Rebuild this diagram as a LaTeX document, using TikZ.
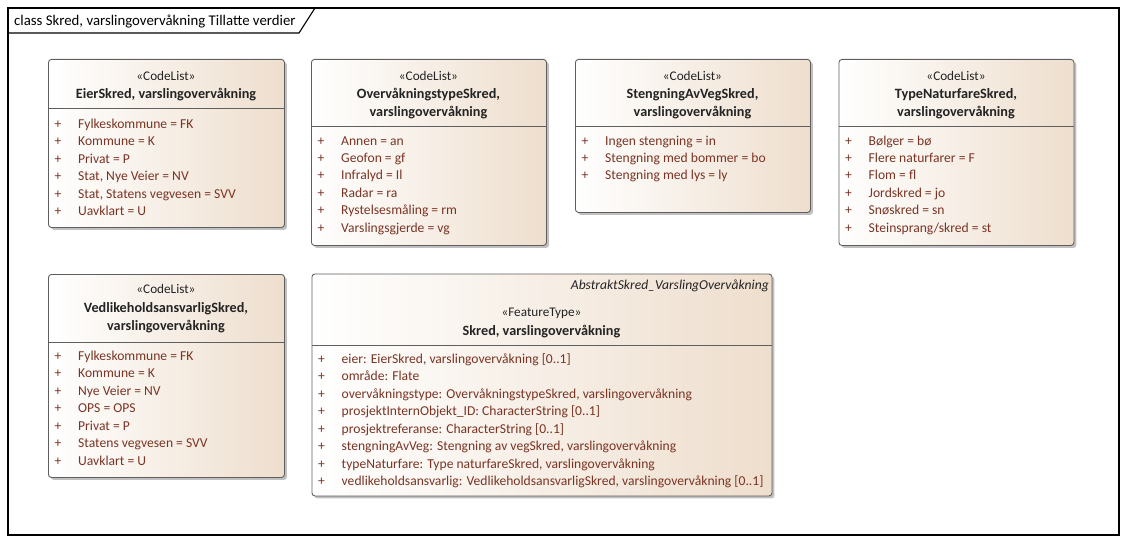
\documentclass[tikz,border=0pt]{standalone}
\usepackage{fontspec}
\setmainfont{Carlito}
\usetikzlibrary{shadows}
\definecolor{attrc}{RGB}{122,52,36}
\definecolor{hdrc}{RGB}{35,35,35}
\definecolor{fillr}{RGB}{238,222,205}
\definecolor{bordc}{RGB}{95,95,95}
\tikzset{
  umlbox/.style={draw=bordc, line width=0.9pt, rounded corners=3pt,
    left color=white, right color=fillr, anchor=north west, inner sep=0pt,
    drop shadow={shadow xshift=2.5pt, shadow yshift=-2.5pt, fill=black!45, opacity=0.55}},
  sepline/.style={draw=bordc, line width=0.9pt},
  hdrtxt/.style={inner sep=0pt, anchor=base, text=hdrc, font=\fontsize{13.2}{15}\selectfont},
  nametxt/.style={hdrtxt, font=\fontsize{14.2}{16}\selectfont\bfseries},
  attrtxt/.style={inner sep=0pt, anchor=base west, text=attrc, font=\fontsize{13.6}{15}\selectfont},
  plustxt/.style={inner sep=0pt, anchor=base, text=attrc, font=\fontsize{13.6}{15}\selectfont},
  frametxt/.style={inner sep=0pt, anchor=base west, text=black, font=\fontsize{14.8}{16}\selectfont},
}
\newcommand\attrrows[4]{%
  \foreach \txt [count=\i from 0] in {#4} {
    \node[plustxt] (#1p\i) at ({#2+10},{#3+4+\i*17.45}) {+};
    \node[attrtxt] (#1r\i) at ({#2+30},{#3+4+\i*17.45}) {\txt};
  }}
\begin{document}
\begin{tikzpicture}[x=1pt,y=-1pt]
\useasboundingbox (0,0) rectangle (1127,543);
% frame
\draw[line width=1.1pt] (8,8) rectangle (1119,535);
\coordinate (t1) at (315,8);
\coordinate (t2) at (299,33);
\coordinate (t3) at (8,33);
\draw[line width=1.1pt] (t1) -- (t2) -- (t3);
\node[frametxt] (title) at (14,25.5) {class Skred, varslingovervåkning Tillatte verdier};

% Box 1
\node[umlbox, minimum width=236pt, minimum height=168pt] (b1) at (48,59) {};
\node[hdrtxt] (b1s) at (166,80.5) {«CodeList»};
\node[nametxt] (b1n) at (166,99) {EierSkred, varslingovervåkning};
\draw[sepline] (b1.west |- 0,108) -- (b1.east |- 0,108);
\attrrows{b1}{48}{124.3}{Fylkeskommune = FK, Kommune = K, Privat = P, {Stat, Nye Veier = NV}, {Stat, Statens vegvesen = SVV}, Uavklart = U}

% Box 2
\node[umlbox, minimum width=235pt, minimum height=186pt] (b2) at (311,59) {};
\node[hdrtxt] (b2s) at (428.5,80.5) {«CodeList»};
\node[nametxt] (b2n) at (428.5,99) {OvervåkningstypeSkred,};
\node[nametxt] (b2m) at (428.5,116.5) {varslingovervåkning};
\draw[sepline] (b2.west |- 0,126.5) -- (b2.east |- 0,126.5);
\attrrows{b2}{311}{141}{Annen = an, Geofon = gf, Infralyd = Il, Radar = ra, Rystelsesmåling = rm, Varslingsgjerde = vg}

% Box 3
\node[umlbox, minimum width=235pt, minimum height=153pt] (b3) at (575,59) {};
\node[hdrtxt] (b3s) at (692.5,80.5) {«CodeList»};
\node[nametxt] (b3n) at (692.5,99) {StengningAvVegSkred,};
\node[nametxt] (b3m) at (692.5,116.5) {varslingovervåkning};
\draw[sepline] (b3.west |- 0,126.5) -- (b3.east |- 0,126.5);
\attrrows{b3}{575}{141}{Ingen stengning = in, Stengning med bommer = bo, Stengning med lys = ly}

% Box 4
\node[umlbox, minimum width=235pt, minimum height=186pt] (b4) at (838.5,59) {};
\node[hdrtxt] (b4s) at (956,80.5) {«CodeList»};
\node[nametxt] (b4n) at (956,99) {TypeNaturfareSkred,};
\node[nametxt] (b4m) at (956,116.5) {varslingovervåkning};
\draw[sepline] (b4.west |- 0,126.5) -- (b4.east |- 0,126.5);
\attrrows{b4}{838.5}{141}{Bølger = bø, Flere naturfarer = F, Flom = fl, Jordskred = jo, Snøskred = sn, Steinsprang/skred = st}

% Box 5
\node[umlbox, minimum width=236pt, minimum height=203pt] (b5) at (48,274) {};
\node[hdrtxt] (b5s) at (166,293.5) {«CodeList»};
\node[nametxt] (b5n) at (166,312.5) {VedlikeholdsansvarligSkred,};
\node[nametxt] (b5m) at (166,330) {varslingovervåkning};
\draw[sepline] (b5.west |- 0,342) -- (b5.east |- 0,342);
\attrrows{b5}{48}{356.3}{Fylkeskommune = FK, Kommune = K, Nye Veier = NV, OPS = OPS, Privat = P, Statens vegvesen = SVV, Uavklart = U}

% Box 6
\node[umlbox, minimum width=460pt, minimum height=222pt] (b6) at (311.5,273.5) {};
\node[hdrtxt, anchor=base east, font=\fontsize{13.6}{15}\selectfont\itshape] (b6a) at (769,289.5) {AbstraktSkred\_VarslingOvervåkning};
\node[hdrtxt] (b6s) at (541.5,316.5) {«FeatureType»};
\node[nametxt] (b6n) at (541.5,335) {Skred, varslingovervåkning};
\draw[sepline] (b6.west |- 0,345.5) -- (b6.east |- 0,345.5);
\attrrows{b6}{311.5}{359.5}{{eier: EierSkred, varslingovervåkning [0..1]}, område: Flate, {overvåkningstype: OvervåkningstypeSkred, varslingovervåkning}, prosjektInternObjekt\_ID: CharacterString [0..1], prosjektreferanse: CharacterString [0..1], {stengningAvVeg: Stengning av vegSkred, varslingovervåkning}, {typeNaturfare: Type naturfareSkred, varslingovervåkning}, {vedlikeholdsansvarlig: VedlikeholdsansvarligSkred, varslingovervåkning [0..1]}}
\end{tikzpicture}
\end{document}
